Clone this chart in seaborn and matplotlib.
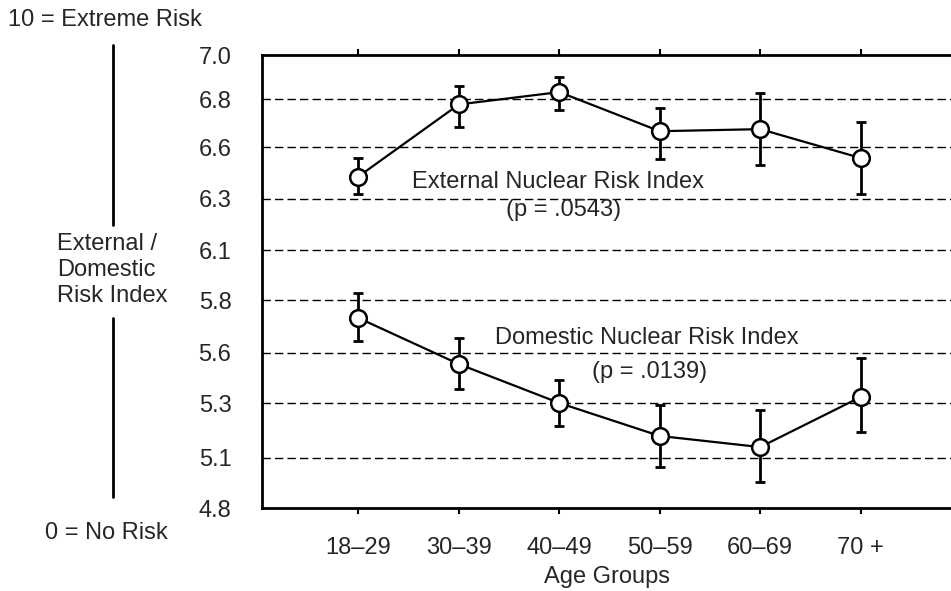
import numpy as np
import pandas as pd
import matplotlib
matplotlib.use("Agg")
import matplotlib.pyplot as plt
from matplotlib.lines import Line2D
import seaborn as sns

# ---- data ----
age_groups = ["18\u201329", "30\u201339", "40\u201349", "50\u201359", "60\u201369", "70 +"]
external_mean = [6.41, 6.76, 6.82, 6.63, 6.64, 6.50]
external_low = [6.325, 6.651, 6.733, 6.495, 6.466, 6.325]
external_high = [6.500, 6.850, 6.893, 6.743, 6.816, 6.675]
domestic_mean = [5.723, 5.499, 5.310, 5.150, 5.096, 5.339]
domestic_low = [5.611, 5.378, 5.198, 4.999, 4.926, 5.169]
domestic_high = [5.844, 5.626, 5.422, 5.300, 5.276, 5.529]
ytick_labels = ["4.8", "5.1", "5.3", "5.6", "5.8", "6.1", "6.3", "6.6", "6.8", "7.0"]
ytick_values = [4.8, 5.043, 5.310, 5.553, 5.810, 6.053, 6.301, 6.553, 6.786, 7.0]

sns.set_theme(style="white")
plt.rcParams["font.family"] = ["Liberation Sans", "DejaVu Sans"]

FS = 17

pos = np.arange(len(age_groups))
df = pd.DataFrame({
    "pos": np.concatenate([pos, pos]),
    "value": external_mean + domestic_mean,
    "series": ["External"] * len(pos) + ["Domestic"] * len(pos),
})

fig = plt.figure(figsize=(9.51, 5.91), dpi=100)
ax = fig.add_axes([0.2755, 0.1404, 0.7245, 0.7665])

for yv in ytick_values[1:-1]:
    ax.axhline(yv, color="black", lw=1.0, ls=(0, (6, 3)), zorder=1)

# error bars
for mean, lo, hi in [(external_mean, external_low, external_high),
                     (domestic_mean, domestic_low, domestic_high)]:
    m = np.array(mean)
    yerr = np.vstack([m - np.array(lo), np.array(hi) - m])
    ax.errorbar(pos, m, yerr=yerr, fmt="none", ecolor="black", elinewidth=2.0,
                capsize=3.5, capthick=2.0, zorder=2)

sns.lineplot(data=df, x="pos", y="value", units="series", estimator=None,
             color="black", lw=1.6, marker="o", markersize=12,
             markerfacecolor="white", markeredgecolor="black", markeredgewidth=1.8,
             ax=ax, zorder=3, legend=False)

ax.set_xlim(-0.96, 5.9)
ax.set_ylim(4.8, 7.0)
ax.set_yticks(ytick_values)
ax.set_yticklabels(ytick_labels, fontsize=FS)
ax.set_xticks(pos)
ax.set_xticklabels(age_groups, fontsize=FS)
ax.set_xlabel("Age Groups", fontsize=FS, labelpad=5)
ax.set_ylabel("")

ax.tick_params(axis="y", direction="out", length=9, width=2, pad=13, color="black")
ax.tick_params(axis="x", direction="out", length=4, width=1.5, pad=17, color="black",
               top=True, bottom=True)

for s in ["left", "bottom", "top"]:
    ax.spines[s].set_visible(True)
    ax.spines[s].set_color("black")
    ax.spines[s].set_linewidth(2.0)
ax.spines["right"].set_visible(False)

ax.text(1.99, 6.383, "External Nuclear Risk Index", fontsize=FS, ha="center", va="center")
ax.text(2.04, 6.247, "(p = .0543)", fontsize=FS, ha="center", va="center")
ax.text(2.87, 5.626, "Domestic Nuclear Risk Index", fontsize=FS, ha="center", va="center")
ax.text(2.90, 5.46, "(p = .0139)", fontsize=FS, ha="center", va="center")

W, H = 951.0, 591.0
fig.text(8 / W, 1 - 20 / H, "10 = Extreme Risk", fontsize=FS, ha="left", va="center")
fig.text(57 / W, 1 - 270 / H, "External /\nDomestic\nRisk Index", fontsize=FS,
         ha="left", va="center", linespacing=1.22)
fig.text(45 / W, 1 - 533 / H, "0 = No Risk", fontsize=FS, ha="left", va="center")
fig.add_artist(Line2D([113 / W, 113 / W], [1 - 45 / H, 1 - 225 / H], color="black", lw=2))
fig.add_artist(Line2D([113 / W, 113 / W], [1 - 318 / H, 1 - 497 / H], color="black", lw=2))

fig.savefig("out.png", dpi=100, facecolor="white")
